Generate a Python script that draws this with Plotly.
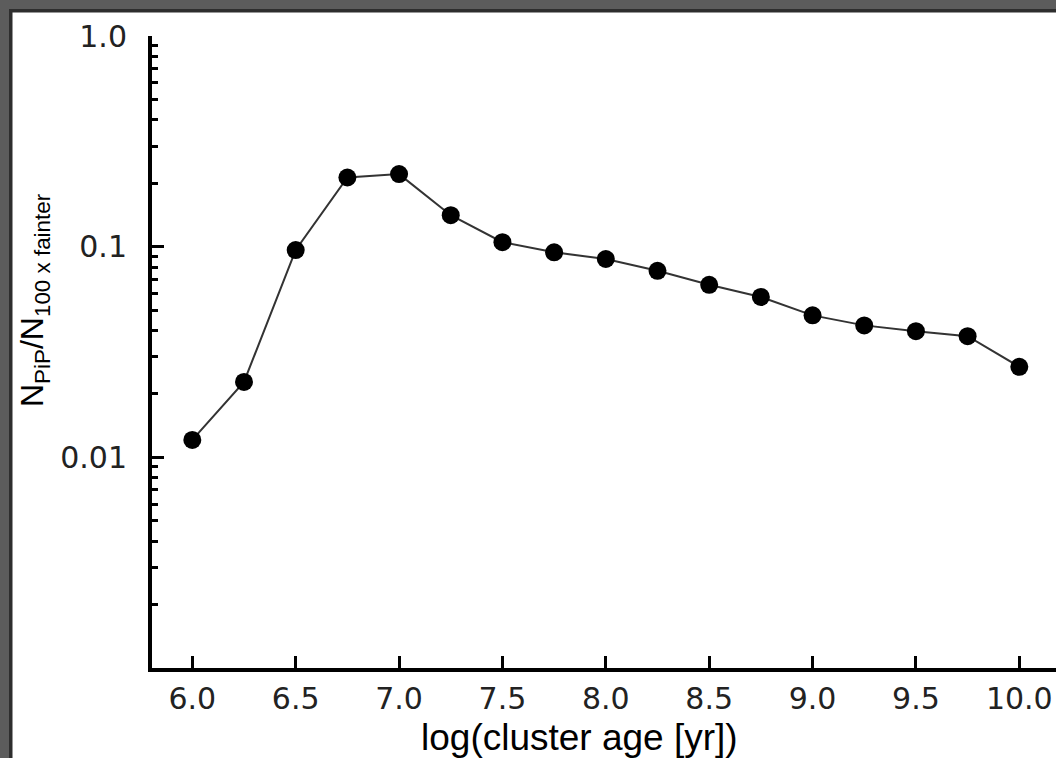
import plotly.graph_objects as go

# Data
log_age = [6.0, 6.25, 6.5, 6.75, 7.0, 7.25, 7.5, 7.75, 8.0, 8.25, 8.5, 8.75, 9.0, 9.25, 9.5, 9.75, 10.0]
ratio = [0.0121, 0.0228, 0.0964, 0.213, 0.221, 0.141, 0.105, 0.094, 0.0874, 0.0768, 0.0659,
         0.0577, 0.0472, 0.0423, 0.0397, 0.0376, 0.0269]

x_tickvals = [6.0, 6.5, 7.0, 7.5, 8.0, 8.5, 9.0, 9.5, 10.0]
x_ticktext = ["6.0", "6.5", "7.0", "7.5", "8.0", "8.5", "9.0", "9.5", "10.0"]
y_tickvals = [1.0, 0.1, 0.01]
y_ticktext = ["1.0", "0.1", "0.01"]
y_minor = [k * 10.0 ** e for e in (-3, -2, -1) for k in range(2, 10)]

W, H = 1056, 758
ML, MR, MT, MB = 152, 0, 36, 90
PW, PH = W - ML - MR, H - MT - MB

def px_x(p):
    return (p - ML) / PW

def px_y(p):
    return 1 - (p - MT) / PH

fig = go.Figure()
fig.add_trace(go.Scatter(
    x=log_age, y=ratio, mode="lines+markers",
    line=dict(color="#333333", width=2),
    marker=dict(color="black", size=18),
    cliponaxis=False,
    showlegend=False,
))

tickfont = dict(family="DejaVu Sans", size=30, color="#222222")

fig.update_layout(
    width=W, height=H,
    margin=dict(l=ML, r=MR, t=MT, b=MB),
    paper_bgcolor="white", plot_bgcolor="white",
    xaxis=dict(
        range=[5.805, 10.1775], showgrid=False, zeroline=False,
        showline=True, linecolor="black", linewidth=4,
        tickmode="array", tickvals=x_tickvals, ticktext=x_ticktext,
        ticks="inside", ticklen=12, tickwidth=3, tickcolor="black",
        tickfont=tickfont, ticklabelstandoff=1,
    ),
    yaxis=dict(
        type="log", range=[-3, 0], showgrid=False, zeroline=False,
        showline=True, linecolor="black", linewidth=4,
        tickmode="array", tickvals=y_tickvals, ticktext=y_ticktext,
        ticks="inside", ticklen=12, tickwidth=3, tickcolor="black",
        tickfont=tickfont, ticklabelstandoff=15,
        minor=dict(tickmode="array", tickvals=y_minor, ticks="inside",
                   ticklen=6, tickwidth=3, tickcolor="black", showgrid=False),
    ),
    font=dict(family="Liberation Sans"),
)

# axis titles
fig.add_annotation(
    text="log(cluster age [yr])", xref="paper", yref="paper",
    x=px_x(579), y=px_y(737), showarrow=False,
    font=dict(family="Liberation Sans", size=37, color="black"),
    xanchor="center", yanchor="middle",
)
fig.add_annotation(
    text="N<sub>PiP</sub>/N<sub>100 x fainter</sub>", xref="paper", yref="paper",
    x=px_x(34), y=px_y(300), showarrow=False, textangle=-90,
    font=dict(family="Liberation Sans", size=32, color="black"),
    xanchor="center", yanchor="middle",
)

# frame bands (left and top)
fig.add_shape(type="rect", xref="paper", yref="paper", layer="above",
              x0=px_x(0), x1=px_x(12.5), y0=px_y(H), y1=px_y(0),
              fillcolor="#2e2e2e", line_width=0)
fig.add_shape(type="rect", xref="paper", yref="paper", layer="above",
              x0=px_x(0), x1=px_x(W), y0=px_y(12.5), y1=px_y(0),
              fillcolor="#2e2e2e", line_width=0)
fig.add_shape(type="rect", xref="paper", yref="paper", layer="above",
              x0=px_x(0), x1=px_x(9), y0=px_y(H), y1=px_y(0),
              fillcolor="#5c5c5c", line_width=0)
fig.add_shape(type="rect", xref="paper", yref="paper", layer="above",
              x0=px_x(0), x1=px_x(W), y0=px_y(9), y1=px_y(0),
              fillcolor="#5c5c5c", line_width=0)

fig.write_html(
    "out.html",
    config={"displayModeBar": False},
    post_script="document.body.style.margin='0';document.body.style.overflow='hidden';",
)
